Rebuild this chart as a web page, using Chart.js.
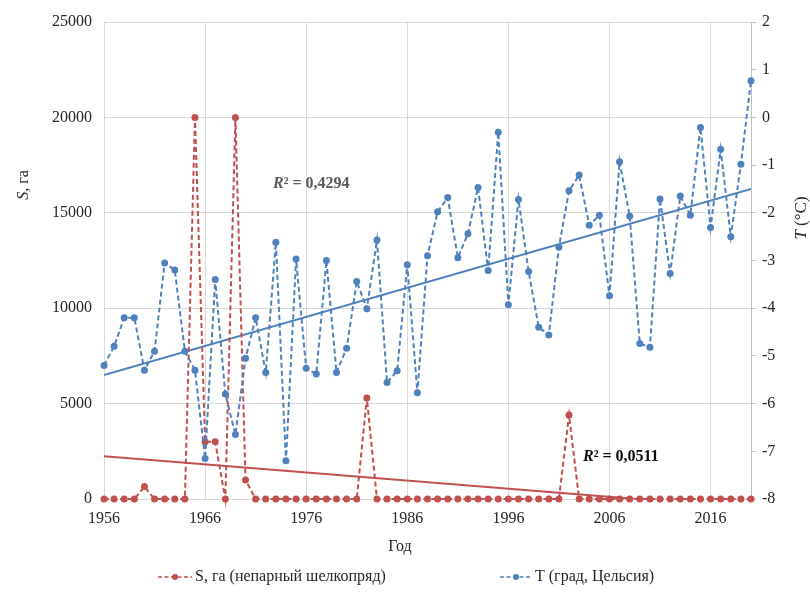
<!DOCTYPE html>
<html>
<head>
<meta charset="utf-8">
<script src="https://cdn.jsdelivr.net/npm/chart.js@4/dist/chart.umd.min.js"></script>
<style>
  html, body { margin: 0; padding: 0; background: #fff; }
  #wrap { width: 810px; height: 599px; position: relative; }
</style>
</head>
<body>
<div id="wrap"><canvas id="c" width="810" height="599"></canvas></div>
<script>
// ---- Data ----
const years = [1956,1957,1958,1959,1960,1961,1962,1963,1964,1965,1966,1967,1968,1969,1970,1971,1972,
  1973,1974,1975,1976,1977,1978,1979,1980,1981,1982,1983,1984,1985,1986,1987,1988,1989,
  1990,1991,1992,1993,1994,1995,1996,1997,1998,1999,2000,2001,2002,2003,2004,2005,2006,
  2007,2008,2009,2010,2011,2012,2013,2014,2015,2016,2017,2018,2019,2020];

// S, ha (gypsy moth damaged area)
const areaS = [0,0,0,0,650,0,0,0,0,20000,3000,3000,0,20000,1000,0,0,
  0,0,0,0,0,0,0,0,0,5300,0,0,0,0,0,0,0,
  0,0,0,0,0,0,0,0,0,0,0,0,4400,0,0,0,0,
  0,0,0,0,0,0,0,0,0,0,0,0,0,0];

// T, degrees Celsius
const tempT = [-5.2,-4.8,-4.2,-4.2,-5.3,-4.9,-3.05,-3.2,-4.9,-5.3,-7.15,-3.4,-5.8,-6.65,-5.05,-4.2,-5.35,
  -2.62,-7.2,-2.97,-5.26,-5.38,-3.0,-5.35,-4.84,-3.44,-4.01,-2.57,-5.56,-5.31,-3.09,-5.77,-2.9,-1.98,
  -1.68,-2.94,-2.44,-1.47,-3.21,-0.31,-3.93,-1.72,-3.23,-4.40,-4.56,-2.72,-1.54,-1.21,-2.26,-2.05,-3.74,
  -0.93,-2.07,-4.74,-4.82,-1.71,-3.27,-1.65,-2.05,-0.21,-2.31,-0.67,-2.50,-0.98,0.77];

const xTicks = [1956,1966,1976,1986,1996,2006,2016];
const leftTicks = [0,5000,10000,15000,20000,25000];
const rightTicks = [-8,-7,-6,-5,-4,-3,-2,-1,0,1,2];

const labelS = 'S, га (непарный шелкопряд)';
const labelT = 'T (град, Цельсия)';
const r2T = '0,4294';
const r2S = '0,0511';

// ---- Helpers ----
function linReg(xs, ys) {
  const n = xs.length;
  let mx = 0, my = 0;
  for (let i = 0; i < n; i++) { mx += xs[i]; my += ys[i]; }
  mx /= n; my /= n;
  let sxy = 0, sxx = 0;
  for (let i = 0; i < n; i++) { sxy += (xs[i]-mx)*(ys[i]-my); sxx += (xs[i]-mx)*(xs[i]-mx); }
  const b = sxy / sxx, a = my - b*mx;
  return x => a + b*x;
}
const fS = linReg(years, areaS);
const fT = linReg(years, tempT);
const x0 = years[0], x1 = years[years.length-1];

const RED = '#C0504D';
const BLUE = '#4F81BD';
const FONT = "'Liberation Serif', 'Times New Roman', serif";
const TXT = '#262626';

const annot = {
  id: 'annot',
  afterDraw(chart) {
    const ctx = chart.ctx;
    ctx.save();
    ctx.fillStyle = TXT;
    ctx.textBaseline = 'middle';

    const drawRotMixed = (cx, cy, parts, size) => {
      ctx.save();
      ctx.translate(cx, cy);
      ctx.rotate(-Math.PI/2);
      let total = 0;
      parts.forEach(p => { ctx.font = p[1] + ' ' + size + 'px ' + FONT; total += ctx.measureText(p[0]).width; });
      let x = -total/2;
      ctx.textAlign = 'left';
      parts.forEach(p => { ctx.font = p[1] + ' ' + size + 'px ' + FONT; ctx.fillText(p[0], x, 0); x += ctx.measureText(p[0]).width; });
      ctx.restore();
    };
    drawRotMixed(24, 185, [['S', 'italic'], [', га', 'normal']], 16);
    drawRotMixed(802, 218, [['T', 'italic'], [' (°C)', 'normal']], 17);

    // x axis title
    ctx.font = '16px ' + FONT;
    ctx.textAlign = 'center';
    ctx.fillText('Год', 400, 547);

    // R² labels
    const drawR2 = (x, y, val, color) => {
      ctx.fillStyle = color;
      ctx.textAlign = 'left';
      ctx.font = 'italic bold 16px ' + FONT;
      ctx.fillText('R', x, y);
      let w = ctx.measureText('R').width;
      ctx.font = 'bold 16px ' + FONT;
      ctx.fillText('² = ' + val, x + w, y);
    };
    drawR2(273, 184, r2T, '#595959');
    drawR2(583, 457, r2S, '#0d0d0d');

    // legend
    const drawLegend = (xs, xe, tx, color, text) => {
      const y = 577;
      ctx.save();
      ctx.strokeStyle = color;
      ctx.lineWidth = 1.6;
      ctx.setLineDash([4, 2.5]);
      ctx.beginPath(); ctx.moveTo(xs, y); ctx.lineTo(xe, y); ctx.stroke();
      ctx.setLineDash([]);
      ctx.fillStyle = color;
      ctx.beginPath(); ctx.arc((xs+xe)/2, y, 3, 0, Math.PI*2); ctx.fill();
      ctx.restore();
      ctx.fillStyle = TXT;
      ctx.textAlign = 'left';
      ctx.font = '16px ' + FONT;
      ctx.fillText(text, tx, y);
    };
    drawLegend(158, 192, 195, RED, labelS);
    drawLegend(500, 532, 535, BLUE, labelT);
    ctx.restore();
  }
};

const pts = (ys) => years.map((y, i) => ({ x: y, y: ys[i] }));

new Chart(document.getElementById('c'), {
  type: 'line',
  data: {
    datasets: [
      {
        label: labelS, data: pts(areaS), yAxisID: 'yS', clip: false,
        borderColor: RED, backgroundColor: RED, borderWidth: 2, borderDash: [5, 3],
        pointRadius: 3.5, pointHoverRadius: 3.5, pointBorderWidth: 0, tension: 0, order: 2
      },
      {
        label: labelT, data: pts(tempT), yAxisID: 'yT', clip: false,
        borderColor: BLUE, backgroundColor: BLUE, borderWidth: 2, borderDash: [5, 3],
        pointRadius: 3.5, pointHoverRadius: 3.5, pointBorderWidth: 0, tension: 0, order: 1
      },
      {
        label: 'trendS', data: [{x: x0, y: fS(x0)}, {x: x1, y: fS(x1)}], yAxisID: 'yS',
        borderColor: RED, borderWidth: 2, pointRadius: 0, order: 3
      },
      {
        label: 'trendT', data: [{x: x0, y: fT(x0)}, {x: x1, y: fT(x1)}], yAxisID: 'yT',
        borderColor: BLUE, borderWidth: 2, pointRadius: 0, order: 3
      }
    ]
  },
  options: {
    responsive: false,
    animation: false,
    events: [],
    layout: { padding: { top: 22, left: 0, right: 0, bottom: 0 } },
    plugins: { legend: { display: false }, tooltip: { enabled: false } },
    scales: {
      x: {
        type: 'linear', min: x0, max: x1,
        afterBuildTicks: s => { s.ticks = xTicks.map(v => ({ value: v })); },
        afterFit: s => { s.height = 100; },
        ticks: { color: TXT, font: { family: FONT, size: 16 }, padding: 10, maxRotation: 0, autoSkip: false,
                 callback: v => String(v) },
        grid: { color: '#D9D9D9', drawTicks: false, lineWidth: 1 },
        border: { display: true, color: '#D9D9D9' }
      },
      yS: {
        type: 'linear', position: 'left', min: 0, max: 25000,
        afterBuildTicks: s => { s.ticks = leftTicks.map(v => ({ value: v })); },
        afterFit: s => { s.width = 104; },
        ticks: { color: TXT, font: { family: FONT, size: 16 }, padding: 12, callback: v => String(v) },
        grid: { color: '#D9D9D9', drawTicks: false },
        border: { display: true, color: '#D9D9D9' }
      },
      yT: {
        type: 'linear', position: 'right', min: -8, max: 2,
        afterBuildTicks: s => { s.ticks = rightTicks.map(v => ({ value: v })); },
        afterFit: s => { s.width = 59; },
        ticks: { color: TXT, font: { family: FONT, size: 16 }, padding: 6, callback: v => String(v) },
        grid: { drawOnChartArea: false, drawTicks: true, tickLength: 5, color: '#BFBFBF' },
        border: { display: true, color: '#BFBFBF' }
      }
    }
  },
  plugins: [annot]
});
</script>
</body>
</html>
